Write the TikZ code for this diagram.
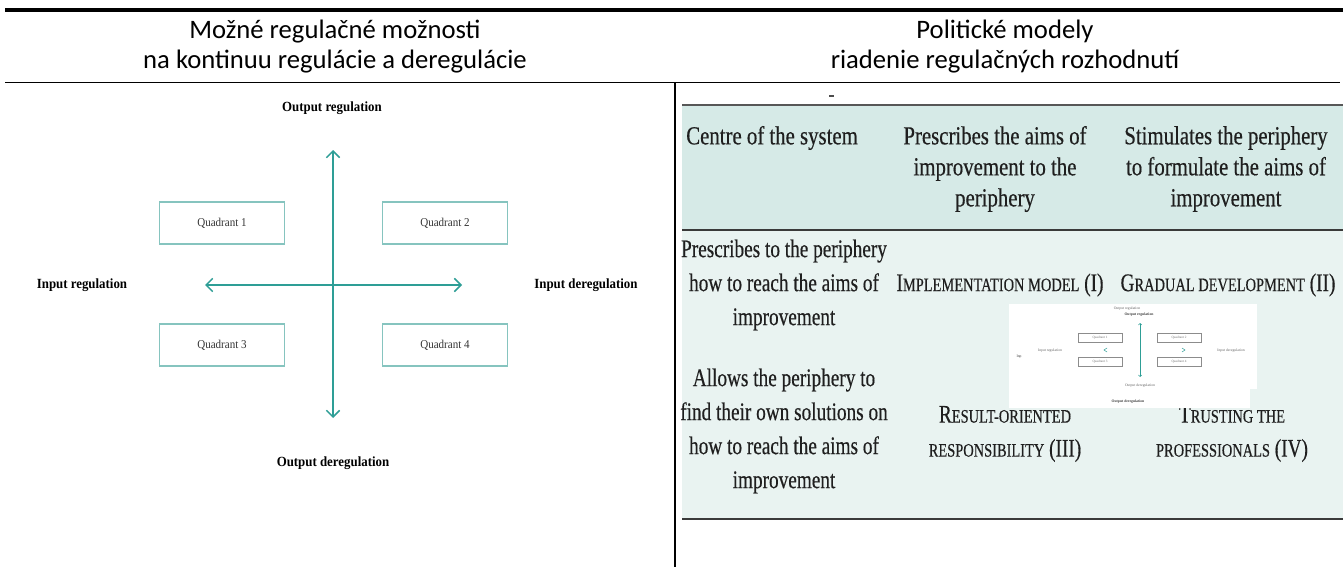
\documentclass[tikz,border=0pt]{standalone}
\usepackage{fontspec}
\setmainfont{Liberation Serif}
\newfontfamily\headfont{Carlito}
\newfontfamily\condfont[FakeStretch=0.76,FakeBold=0.4]{Liberation Serif}
\newfontfamily\hdrfont[FakeStretch=0.8,FakeBold=0.4]{Liberation Serif}
\newfontfamily\diafont[FakeStretch=0.92]{Liberation Serif}
\usetikzlibrary{arrows.meta}

\definecolor{axisteal}{HTML}{2E9E96}
\definecolor{boxteal}{HTML}{86C4BF}
\definecolor{hdrfill}{HTML}{D6EAE7}
\definecolor{bodyfill}{HTML}{E9F3F1}
\definecolor{rulegray}{HTML}{3A3A3A}

% small capitals imitation for the model names
\newcommand\smc[1]{{\fontsize{14.25}{15}\selectfont #1}}

\tikzset{
  heading/.style={font=\headfont\fontsize{20}{22.5}\selectfont, align=center, inner sep=0pt},
  axislabel/.style={font=\diafont\bfseries\fontsize{10.5}{12}\selectfont, inner sep=0pt},
  quadbox/.style={draw=boxteal, line width=0.8pt, minimum width=93.75pt, minimum height=31.5pt,
                  inner sep=0pt, font=\diafont\fontsize{9}{10}\selectfont, text=black!80},
  axisline/.style={draw=axisteal, line width=1.1pt,
                   {Straight Barb[length=5pt,width=10pt]}-{Straight Barb[length=5pt,width=10pt]}},
  hcell/.style={font=\hdrfont\fontsize{19.5}{23.25}\selectfont, align=center, inner sep=0pt, text=black!88},
  bcell/.style={font=\condfont\fontsize{19}{25.5}\selectfont, align=center, inner sep=0pt, text=black!88},
  tinytext/.style={font=\fontsize{2.8}{3}\selectfont, inner sep=0pt, text=black!60},
  tinybold/.style={font=\bfseries\fontsize{2.8}{3}\selectfont, inner sep=0pt, text=black!75},
  tinybox/.style={draw=black!45, line width=0.3pt, minimum width=33pt, minimum height=6.5pt,
                  inner sep=0pt, font=\fontsize{2.5}{3}\selectfont, text=black!55},
}

\begin{document}
\begin{tikzpicture}[x=0.75pt,y=-0.75pt]
\useasboundingbox (0,0) rectangle (1343,567);

% ---- page rules and headings ----
\draw[line width=2.3pt] (5,10) -- (1343,10);
\draw[line width=1.2pt] (5,82.5) -- (1340,82.5);
\draw[line width=1.5pt] (675,82.5) -- (675,567);

\node[heading] (hl) at (335,47) {Možné regulačné možnosti\\na kontinuu regulácie a deregulácie};
\node[heading] (hr) at (1005,47) {Politické modely\\riadenie regulačných rozhodnutí};

% ---- regulation / deregulation continuum ----
\node[axislabel] (outreg) at (332,108) {Output regulation};
\node[axislabel] (outdereg) at (333,463) {Output deregulation};
\node[axislabel] (inreg) at (82,285) {Input regulation};
\node[axislabel] (indereg) at (586,285) {Input deregulation};

\node[quadbox] (q1) at (222,223) {Quadrant 1};
\node[quadbox] (q2) at (445,223) {Quadrant 2};
\node[quadbox] (q3) at (222,345) {Quadrant 3};
\node[quadbox] (q4) at (445,345) {Quadrant 4};

\coordinate (vtop) at (333,150);
\coordinate (vbot) at (333,418);
\coordinate (hleft) at (205,285);
\coordinate (hright) at (462,285);
\draw[axisline] (vbot) -- (vtop);
\draw[axisline] (hleft) -- (hright);

% ---- political models table ----
\fill[hdrfill] (682,105) rectangle (1343,230);
\fill[bodyfill] (682,230) rectangle (1343,519);
\draw[rulegray!85, line width=1.1pt] (682,105) -- (1343,105);
\draw[rulegray, line width=1.4pt] (682,230) -- (1343,230);
\draw[rulegray, line width=2pt] (682,519) -- (1343,519);
\draw[black!70, line width=0.8pt] (829,96) -- (834,96);

\node[hcell, anchor=west] (centre) at (686,138) {Centre of the system};
\node[hcell] (prescr) at (995,169) {Prescribes the aims of\\improvement to the\\periphery};
\node[hcell] (stim) at (1226,169) {Stimulates the periphery\\to formulate the aims of\\improvement};

\node[bcell] (rowa) at (784,285) {Prescribes to the periphery\\how to reach the aims of\\improvement};
\node[bcell] (rowb) at (784,431) {Allows the periphery to\\find their own solutions on\\how to reach the aims of\\improvement};

\node[bcell] (m1) at (1000,285) {I\smc{MPLEMENTATION MODEL} (I)};
\node[bcell] (m2) at (1228,285) {G\smc{RADUAL DEVELOPMENT} (II)};
\node[bcell] (m3) at (1005,434) {R\smc{ESULT-ORIENTED}\\\smc{RESPONSIBILITY} (III)};
\node[bcell] (m4) at (1232,434) {T\smc{RUSTING THE}\\\smc{PROFESSIONALS} (IV)};

% ---- small pasted copy of the continuum diagram ----
\fill[white] (1009,304) rectangle (1257,389);
\fill[white] (1009,389) rectangle (1250,408);

\node[tinytext] (ta) at (1127,309) {Output regulation};
\node[tinybold] (tb) at (1139,315) {Output regulation};
\node[tinybox] (tq1) at (1100,338) {Quadrant 1};
\node[tinybox] (tq2) at (1179,338) {Quadrant 2};
\node[tinybox] (tq3) at (1100,362) {Quadrant 3};
\node[tinybox] (tq4) at (1179,362) {Quadrant 4};
\node[tinytext] (tir) at (1050,351) {Input regulation};
\node[tinytext, text=black!80] (tin) at (1019,357) {Inp};
\node[tinytext] (tid) at (1231,351) {Input deregulation};
\node[tinytext] (tod) at (1140,386) {Output deregulation};
\node[tinybold] (tod2) at (1128,402) {Output deregulation};
\coordinate (tvt) at (1140,323);
\coordinate (tvb) at (1140,377);
\draw[axisteal, line width=0.4pt, {Straight Barb[length=1.2pt,width=2.4pt]}-{Straight Barb[length=1.2pt,width=2.4pt]}] (tvb) -- (tvt);
\draw[axisteal, line width=0.35pt] (1107,348) -- (1104,350) -- (1107,352);
\draw[axisteal, line width=0.35pt] (1182,348) -- (1185,350) -- (1182,352);
\end{tikzpicture}
\end{document}
